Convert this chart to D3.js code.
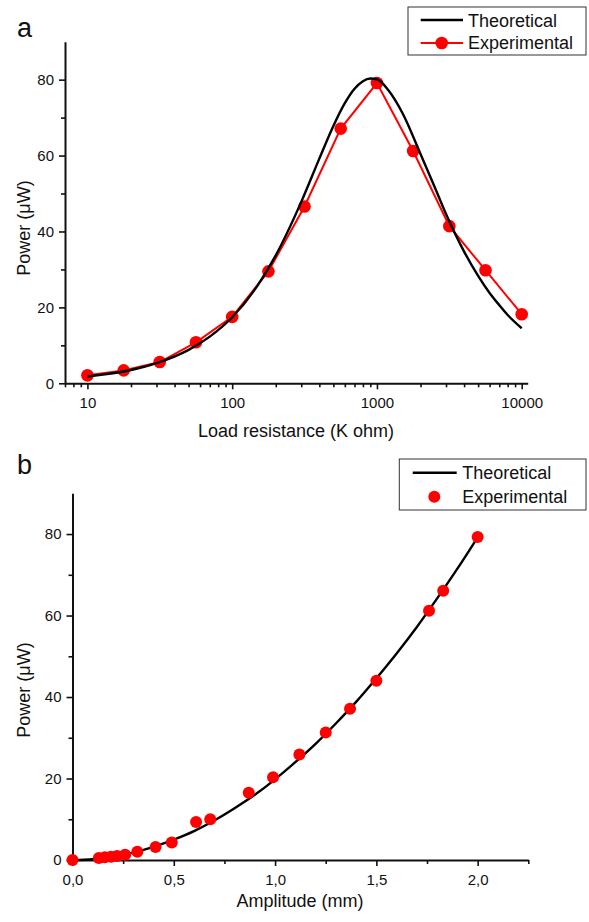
<!DOCTYPE html>
<html>
<head>
<meta charset="utf-8">
<script src="https://cdn.jsdelivr.net/npm/d3@7"></script>
<style>
  html, body { margin: 0; padding: 0; background: #fff; }
  svg { display: block; font-family: "Liberation Sans", Arial, Helvetica, sans-serif; }
</style>
</head>
<body>
<svg id="chart" width="589" height="922"></svg>
<script>
// ---------- Panel a data ----------
const loadExpR = [10, 17.8, 31.6, 56.2, 100, 178, 316, 562, 1000, 1778, 3162, 5623, 10000];
const loadExpP = [2.1, 3.4, 5.6, 10.8, 17.5, 29.5, 46.6, 67.1, 79.1, 61.2, 41.4, 29.8, 18.2];
const loadTheoR = [10, 20, 30, 50, 70, 100, 150, 200, 300, 400, 500, 600, 700, 800, 900, 1000, 1200, 1500, 2000, 2500, 3000, 4000, 5000, 6000, 7000, 8000, 10000];
const loadTheoP = [1.8, 3.5, 5.3, 8.8, 12.3, 17.4, 25.8, 33.7, 47.8, 59.2, 67.8, 73.8, 77.6, 79.6, 80.3, 80.1, 77.2, 71.2, 60.4, 51.8, 44.6, 34.7, 28.3, 23.8, 20.6, 18.0, 14.5];
const loadXTicks = [10, 100, 1000, 10000];
const powerTicks = [0, 20, 40, 60, 80];

// ---------- Panel b data ----------
const ampExpA = [0.0, 0.13, 0.16, 0.19, 0.22, 0.26, 0.32, 0.41, 0.49, 0.61, 0.68, 0.87, 0.99, 1.12, 1.25, 1.37, 1.50, 1.76, 1.83, 2.00];
const ampExpP = [0.0, 0.5, 0.7, 0.8, 1.0, 1.3, 2.0, 3.2, 4.3, 9.3, 10.0, 16.5, 20.3, 25.9, 31.3, 37.1, 44.0, 61.2, 66.1, 79.3];
const ampTheoA = [0.0, 0.1, 0.2, 0.3, 0.4, 0.5, 0.6, 0.7, 0.8, 0.9, 1.0, 1.1, 1.2, 1.3, 1.4, 1.5, 1.6, 1.7, 1.8, 1.9, 2.0];
const ampTheoP = [0.0, 0.2, 0.8, 1.8, 3.2, 5.0, 7.1, 9.7, 12.7, 16.0, 19.8, 24.0, 28.5, 33.5, 38.8, 44.6, 50.7, 57.2, 64.2, 71.5, 79.2];
const ampXTicks = [0, 0.5, 1.0, 1.5, 2.0];
const legendLabels = ["Theoretical", "Experimental"];

const svg = d3.select("#chart");
const RED = "#ff0000";

function styleAxis(g) {
  g.select(".domain").attr("stroke", "#111").attr("stroke-width", 2);
  g.selectAll(".tick line").attr("stroke", "#111").attr("stroke-width", 1.6);
  g.selectAll(".tick text").attr("fill", "#111").style("font-size", "15px")
    .style("font-family", '"Liberation Sans", Arial, sans-serif');
}

// ================= Panel a =================
{
  const L = 65, R = 527.7, T = 41.7, B = 383.3;
  const x = d3.scaleLog().domain([7.0, 11000]).range([L, R]);
  const y = d3.scaleLinear().domain([0, 90]).range([B, T]);

  // minor ticks
  const minorX = [];
  for (let d = 1; d <= 1000; d *= 10) for (let m = 1; m <= 9; m++) {
    const v = d * m; if (v >= 7 && v <= 11000 && !loadXTicks.includes(v)) minorX.push(v);
  }
  const gxMinor = svg.append("g").attr("transform", `translate(0,${B})`)
    .call(d3.axisBottom(x).tickValues(minorX).tickSize(4).tickFormat(""));
  gxMinor.select(".domain").remove();
  gxMinor.selectAll(".tick line").attr("stroke", "#111").attr("stroke-width", 1.6);

  const gyMinor = svg.append("g").attr("transform", `translate(${L},0)`)
    .call(d3.axisLeft(y).tickValues([10, 30, 50, 70]).tickSize(4).tickFormat(""));
  gyMinor.select(".domain").remove();
  gyMinor.selectAll(".tick line").attr("stroke", "#111").attr("stroke-width", 1.6);

  const gx = svg.append("g").attr("transform", `translate(0,${B})`)
    .call(d3.axisBottom(x).tickValues(loadXTicks).tickSize(6).tickPadding(8).tickFormat(d3.format("d")).tickSizeOuter(0));
  styleAxis(gx);
  const gy = svg.append("g").attr("transform", `translate(${L},0)`)
    .call(d3.axisLeft(y).tickValues(powerTicks).tickSize(6).tickPadding(5).tickSizeOuter(0));
  styleAxis(gy);

  // experimental line + points
  const expData = loadExpR.map((r, i) => [r, loadExpP[i]]);
  svg.append("path").datum(expData)
    .attr("fill", "none").attr("stroke", RED).attr("stroke-width", 2)
    .attr("d", d3.line().x(d => x(d[0])).y(d => y(d[1])));
  svg.append("g").selectAll("circle").data(expData).join("circle")
    .attr("cx", d => x(d[0])).attr("cy", d => y(d[1])).attr("r", 6.3).attr("fill", RED);

  // theoretical curve
  const theoData = loadTheoR.map((r, i) => [r, loadTheoP[i]]);
  svg.append("path").datum(theoData)
    .attr("fill", "none").attr("stroke", "#000").attr("stroke-width", 2.4)
    .attr("d", d3.line().curve(d3.curveMonotoneX).x(d => x(d[0])).y(d => y(d[1])));

  // titles
  svg.append("text").attr("x", 296).attr("y", 436.5).attr("text-anchor", "middle")
    .style("font-size", "18px").attr("fill", "#111").text("Load resistance (K ohm)");
  svg.append("text").attr("transform", "translate(30,228) rotate(-90)").attr("text-anchor", "middle")
    .style("font-size", "18px").attr("fill", "#111").text("Power (\u03bcW)");
  svg.append("text").attr("x", 17).attr("y", 37).style("font-size", "27px").attr("fill", "#111").text("a");

  // legend
  const lg = svg.append("g");
  lg.append("rect").attr("x", 408).attr("y", 7).attr("width", 178).attr("height", 48)
    .attr("fill", "#fff").attr("stroke", "#333").attr("stroke-width", 1);
  lg.append("line").attr("x1", 420.7).attr("x2", 463).attr("y1", 20).attr("y2", 20)
    .attr("stroke", "#000").attr("stroke-width", 2.4);
  lg.append("line").attr("x1", 420.7).attr("x2", 463).attr("y1", 43).attr("y2", 43)
    .attr("stroke", RED).attr("stroke-width", 2);
  lg.append("circle").attr("cx", 441.7).attr("cy", 43).attr("r", 6.3).attr("fill", RED);
  lg.selectAll("text.lab").data(legendLabels).join("text").attr("class", "lab")
    .attr("x", 468).attr("y", (d, i) => 26.5 + i * 22.5)
    .style("font-size", "18px").attr("fill", "#111").text(d => d);
}

// ================= Panel b =================
{
  const L = 72.5, R = 528.3, T = 493.3, B = 860;
  const x = d3.scaleLinear().domain([0, 2.25]).range([L, R]);
  const y = d3.scaleLinear().domain([0, 90]).range([B, T]);

  const gxMinor = svg.append("g").attr("transform", `translate(0,${B})`)
    .call(d3.axisBottom(x).tickValues([0.25, 0.75, 1.25, 1.75, 2.25]).tickSize(4).tickFormat(""));
  gxMinor.select(".domain").remove();
  gxMinor.selectAll(".tick line").attr("stroke", "#111").attr("stroke-width", 1.6);
  const gyMinor = svg.append("g").attr("transform", `translate(${L},0)`)
    .call(d3.axisLeft(y).tickValues([10, 30, 50, 70]).tickSize(4).tickFormat(""));
  gyMinor.select(".domain").remove();
  gyMinor.selectAll(".tick line").attr("stroke", "#111").attr("stroke-width", 1.6);

  const gx = svg.append("g").attr("transform", `translate(0,${B})`)
    .call(d3.axisBottom(x).tickValues(ampXTicks).tickSize(6).tickPadding(8)
      .tickFormat(d => d3.format(".1f")(d).replace(".", ",")).tickSizeOuter(0));
  styleAxis(gx);
  const gy = svg.append("g").attr("transform", `translate(${L},0)`)
    .call(d3.axisLeft(y).tickValues(powerTicks).tickSize(6).tickPadding(5).tickSizeOuter(0));
  styleAxis(gy);

  const theoData = ampTheoA.map((a, i) => [a, ampTheoP[i]]);
  svg.append("path").datum(theoData)
    .attr("fill", "none").attr("stroke", "#000").attr("stroke-width", 2.4)
    .attr("d", d3.line().curve(d3.curveMonotoneX).x(d => x(d[0])).y(d => y(d[1])));

  const expData = ampExpA.map((a, i) => [a, ampExpP[i]]);
  svg.append("g").selectAll("circle").data(expData).join("circle")
    .attr("cx", d => x(d[0])).attr("cy", d => y(d[1])).attr("r", 6).attr("fill", RED);

  svg.append("text").attr("x", 300).attr("y", 907).attr("text-anchor", "middle")
    .style("font-size", "18px").attr("fill", "#111").text("Amplitude (mm)");
  svg.append("text").attr("transform", "translate(30,690) rotate(-90)").attr("text-anchor", "middle")
    .style("font-size", "18px").attr("fill", "#111").text("Power (\u03bcW)");
  svg.append("text").attr("x", 17).attr("y", 474).style("font-size", "27px").attr("fill", "#111").text("b");

  const lg = svg.append("g");
  lg.append("rect").attr("x", 399.3).attr("y", 459).attr("width", 186.7).attr("height", 51)
    .attr("fill", "#fff").attr("stroke", "#333").attr("stroke-width", 1);
  lg.append("line").attr("x1", 412.7).attr("x2", 456.7).attr("y1", 472.7).attr("y2", 472.7)
    .attr("stroke", "#000").attr("stroke-width", 2.4);
  lg.append("circle").attr("cx", 434.3).attr("cy", 496.7).attr("r", 6).attr("fill", RED);
  lg.selectAll("text.lab").data(legendLabels).join("text").attr("class", "lab")
    .attr("x", 462.3).attr("y", (d, i) => 479.2 + i * 24)
    .style("font-size", "18px").attr("fill", "#111").text(d => d);
}
</script>
</body>
</html>
